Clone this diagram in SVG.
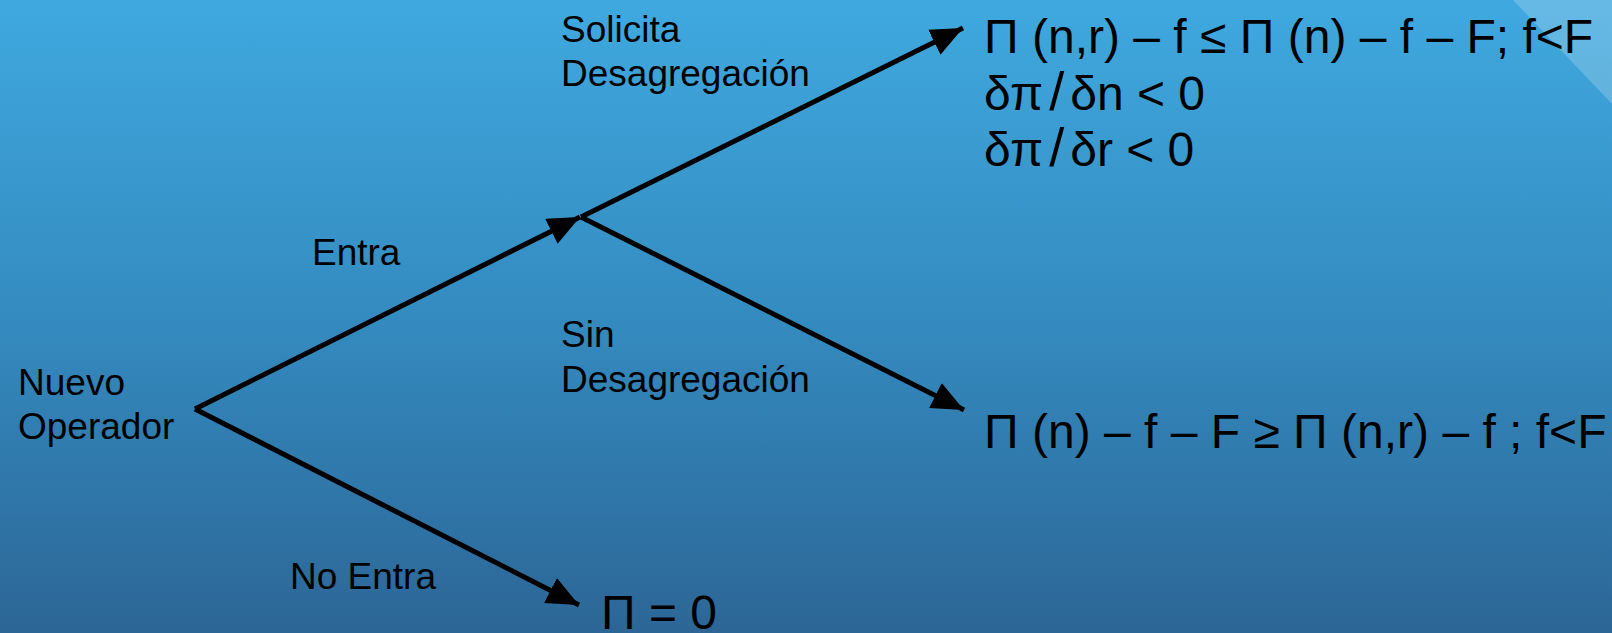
<svg xmlns="http://www.w3.org/2000/svg" width="1612" height="633" viewBox="0 0 1612 633">
<defs>
<linearGradient id="bg" x1="0" y1="0" x2="0" y2="1">
<stop offset="0" stop-color="#3fa9df"/>
<stop offset="0.5" stop-color="#348bc0"/>
<stop offset="1" stop-color="#2c6696"/>
</linearGradient>
<marker id="arr" viewBox="0 0 6.4 5.6" refX="6.4" refY="2.8" markerWidth="6.4" markerHeight="5.6" markerUnits="strokeWidth" orient="auto">
<path d="M0,0 L6.4,2.8 L0,5.6 Z" fill="#000"/>
</marker>
<style>
.lbl{font-family:"Liberation Sans",Arial,sans-serif;font-size:37px;fill:#000}
.math{font-family:"Liberation Sans",Arial,sans-serif;font-size:48px;fill:#000}
.slash{font-size:54px}
.edge{stroke:#000;stroke-width:5;fill:none;marker-end:url(#arr)}
</style>
</defs>
<rect width="1612" height="633" fill="url(#bg)"/>
<polygon points="1513,0 1612,0 1612,104" fill="#ffffff" fill-opacity="0.2"/>
<g id="connectors">
<line class="edge" x1="195" y1="409" x2="580" y2="217"/>
<line class="edge" x1="195" y1="409" x2="579" y2="605"/>
<line class="edge" x1="581" y1="217" x2="963" y2="28"/>
<line class="edge" x1="581" y1="217" x2="964" y2="410"/>
</g>
<g id="node-nuevo">
<text class="lbl" x="18" y="395">Nuevo</text>
<text class="lbl" x="18" y="439">Operador</text>
</g>
<g id="label-entra"><text class="lbl" x="312" y="265">Entra</text></g>
<g id="label-noentra"><text class="lbl" x="290" y="589">No Entra</text></g>
<g id="label-solicita">
<text class="lbl" x="561" y="42">Solicita</text>
<text class="lbl" x="561" y="86">Desagregación</text>
</g>
<g id="label-sin">
<text class="lbl" x="561" y="347">Sin</text>
<text class="lbl" x="561" y="392">Desagregación</text>
</g>
<g id="node-top">
<text class="math" x="984" y="53">Π (n,r) – f ≤ Π (n) – f – F; f&lt;F</text>
<text class="math" x="984" y="110">δπ<tspan class="slash" dx="6">/</tspan><tspan dx="6">δn &lt; 0</tspan></text>
<text class="math" x="984" y="166">δπ<tspan class="slash" dx="6">/</tspan><tspan dx="6">δr &lt; 0</tspan></text>
</g>
<g id="node-mid">
<text class="math" x="984" y="448">Π (n) – f – F ≥ Π (n,r) – f ; f&lt;F</text>
</g>
<g id="node-zero">
<text class="math" x="601" y="629">Π = 0</text>
</g>
</svg>
